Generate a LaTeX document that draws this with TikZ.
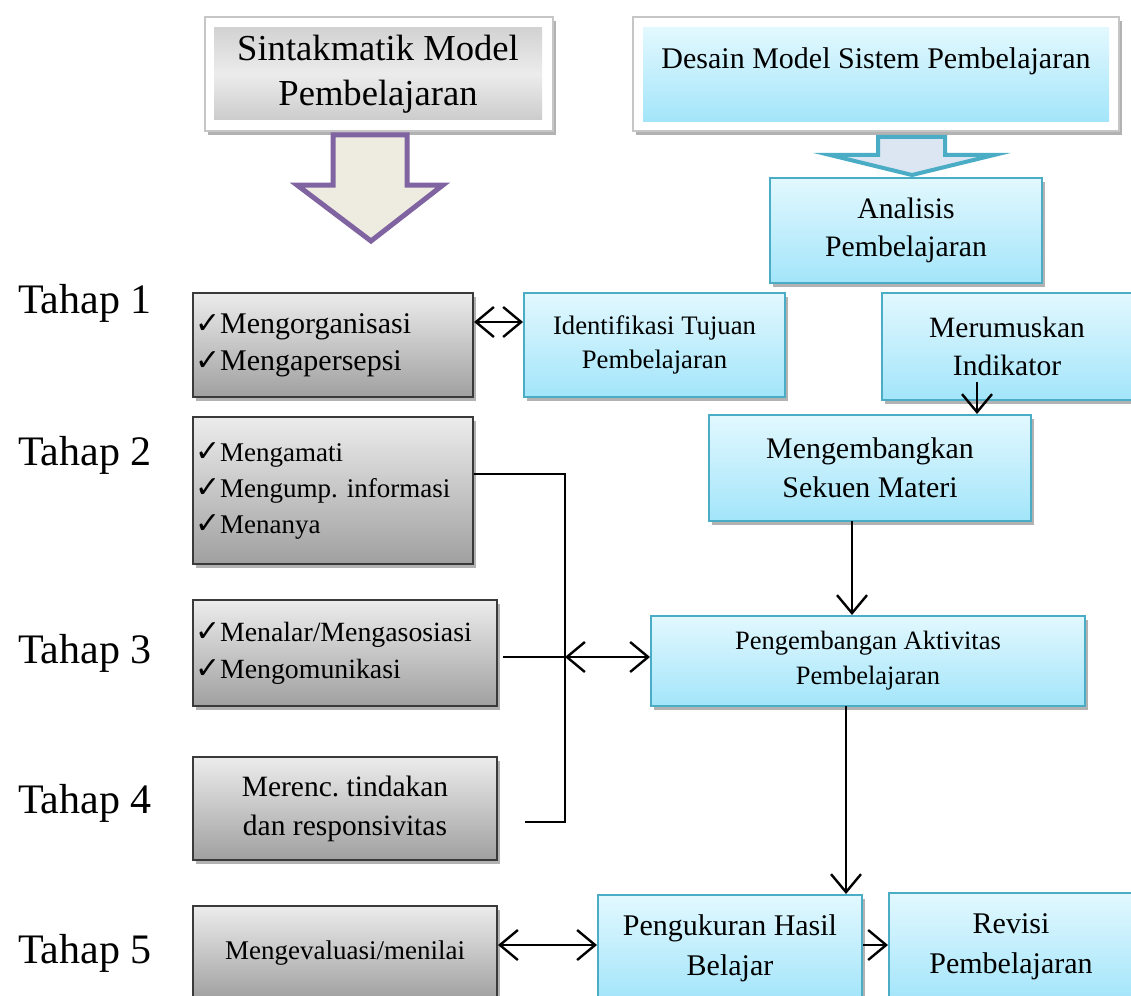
\documentclass[tikz,border=0pt]{standalone}
\usepackage{fontspec}
\setmainfont{Liberation Serif}
\newfontfamily\symfont{DejaVu Sans}
\usetikzlibrary{arrows.meta,shadows,calc}

\definecolor{cyantop}{HTML}{E2F8FE}
\definecolor{cyanbot}{HTML}{A3E5FA}
\definecolor{cyanline}{HTML}{4BACC6}
\definecolor{graytop}{HTML}{ECECEC}
\definecolor{graybot}{HTML}{A0A0A0}
\definecolor{grayline}{HTML}{3A3A3A}
\definecolor{purp}{HTML}{8064A2}
\definecolor{beige}{HTML}{EEECE1}
\definecolor{arrfill}{HTML}{DCE6F2}

\newcommand{\fsz}[2]{\fontsize{#1pt}{#2pt}\selectfont}
\newcommand{\ck}{{\symfont\fontsize{30pt}{30pt}\selectfont ✓}}

\tikzset{
  shad/.style={drop shadow={shadow xshift=3pt, shadow yshift=-4pt, opacity=.3, fill=black}},
  cyanbox/.style={draw=cyanline, line width=2pt, top color=cyantop, bottom color=cyanbot,
    shad, align=center, inner sep=0pt},
  graybox/.style={draw=grayline, line width=2pt, top color=graytop, bottom color=graybot,
    shad, inner sep=0pt},
  frame/.style={draw=gray!45, line width=1.5pt, fill=white, shad, inner sep=0pt},
  tahap/.style={anchor=base west, font=\fsz{42}{42}, inner sep=0pt},
  con/.style={line width=2.3pt, draw=black},
  arr/.style={con, -{Straight Barb[length=18pt,width=30pt,line width=2.4pt]}},
  dbl/.style={con, {Straight Barb[length=18pt,width=30pt,line width=2.4pt]}-{Straight Barb[length=18pt,width=30pt,line width=2.4pt]}},
}

\begin{document}
\begin{tikzpicture}[x=1pt,y=-1pt]
\useasboundingbox (0,0) rectangle (1131,995);
\clip (0,0) rectangle (1131,995);

% ---- top left: Sintakmatik
\node[frame, minimum width=348pt, minimum height=114pt] (sintout) at (379,74) {};
\node[inner sep=0pt, minimum width=328pt, minimum height=92pt,
      top color=gray!35, bottom color=gray!40, middle color=gray!15,
      align=center, font=\fsz{36.6}{45}] (sint) at (378,74) {Sintakmatik Model\\Pembelajaran};
\draw[draw=purp, fill=beige, line width=5pt, line join=miter]
  (333,135) -- (407,135) -- (407,185) -- (443,185) -- (371,241) -- (297,185) -- (333,185) -- cycle;

% ---- top right: Desain
\node[frame, minimum width=486pt, minimum height=114pt] (desout) at (876,74) {};
\node[inner sep=0pt, minimum width=466pt, minimum height=94pt,
      top color=cyantop, bottom color=cyanbot] (des) at (876,75) {};
\node[inner sep=0pt, font=\fsz{30}{34}] (destext) at (876,61) {Desain Model Sistem Pembelajaran};
\draw[draw=cyanline, fill=arrfill, line width=4pt, line join=miter]
  (878,137) -- (945,137) -- (945,155) -- (994,155) -- (912,175) -- (830,155) -- (878,155) -- cycle;

% ---- right column boxes
\node[cyanbox, minimum width=272pt, minimum height=105pt, font=\fsz{29.7}{38}] (anal) at (906,230.5) {Analisis\\Pembelajaran};
\node[cyanbox, minimum width=261pt, minimum height=104pt, font=\fsz{26.7}{34}] (ident) at (654.5,345) {Identifikasi Tujuan\\Pembelajaran};
\node[cyanbox, minimum width=250pt, minimum height=107pt, font=\fsz{29.5}{38}] (meru) at (1007,346.5) {Merumuskan\\Indikator};
\node[cyanbox, minimum width=322pt, minimum height=106pt, font=\fsz{29.9}{39}] (meng) at (870,468) {Mengembangkan\\Sekuen Materi};
\node[cyanbox, minimum width=434pt, minimum height=90pt, font=\fsz{26.5}{35}] (peng) at (868,661) {Pengembangan Aktivitas\\Pembelajaran};
\node[cyanbox, minimum width=264pt, minimum height=106pt, font=\fsz{30}{40}] (ukur) at (730,948) {Pengukuran Hasil\\Belajar};
\node[cyanbox, minimum width=244pt, minimum height=108pt, font=\fsz{30}{40}] (revi) at (1011,947) {Revisi\\Pembelajaran};

% ---- left gray boxes
\node[graybox, minimum width=280pt, minimum height=104pt, text width=276pt, inner xsep=2pt,
      align=left, font=\fsz{30}{37}] (t1) at (333,345) {\ck Mengorganisasi\\\ck Mengapersepsi};
\node[graybox, minimum width=280pt, minimum height=147pt, text width=276pt, inner xsep=2pt,
      align=left, font=\fsz{27}{36}] (t2) at (333,490.5) {\ck Mengamati\\\ck Mengump.\ informasi\\\ck Menanya};
\node[graybox, minimum width=304pt, minimum height=106pt, text width=300pt, inner xsep=2pt,
      align=left, font=\fsz{27.8}{37}] (t3) at (345,653) {\ck Menalar/Mengasosiasi\\\ck Mengomunikasi};
\node[graybox, minimum width=304pt, minimum height=103pt, align=center,
      font=\fsz{29.5}{39}] (t4) at (345,808.5) {Merenc.\ tindakan\\dan responsivitas};
\node[graybox, minimum width=304pt, minimum height=94pt, align=center,
      font=\fsz{27}{30}] (t5) at (345,953) {Mengevaluasi/menilai};

% ---- Tahap labels
\node[tahap] (l1) at (18,313) {Tahap 1};
\node[tahap] (l2) at (18,465) {Tahap 2};
\node[tahap] (l3) at (18,663) {Tahap 3};
\node[tahap] (l4) at (18,813) {Tahap 4};
\node[tahap] (l5) at (18,963) {Tahap 5};

% ---- connectors
\coordinate (bt) at (565,474);
\coordinate (bm) at (565,657);
\coordinate (bb) at (565,822);
\coordinate (b4) at (525,822);
\coordinate (t3r) at (503,657);
\coordinate (mi) at (977,382);
\coordinate (ms) at (852,521);
\coordinate (ps) at (846,706);
\coordinate (rr) at (0,945);

\draw[dbl] ([yshift=23pt]t1.east) -- ([yshift=23pt]t1.east -| ident.west);
\draw[con] (t2.east |- bt) -- (bt) -- (bb) -- (b4);
\draw[con] (t3r) -- (bm);
\draw[dbl] (bm) -- (bm -| peng.west);
\draw[arr] (mi) -- (mi |- meng.north);
\draw[arr] (ms) -- (ms |- peng.north);
\draw[arr] (ps) -- (ps |- ukur.north);
\draw[dbl] ([yshift=8pt]t5.east) -- ([yshift=8pt]t5.east -| ukur.west);
\draw[arr] (ukur.east |- rr) -- (revi.west |- rr);
\end{tikzpicture}
\end{document}
